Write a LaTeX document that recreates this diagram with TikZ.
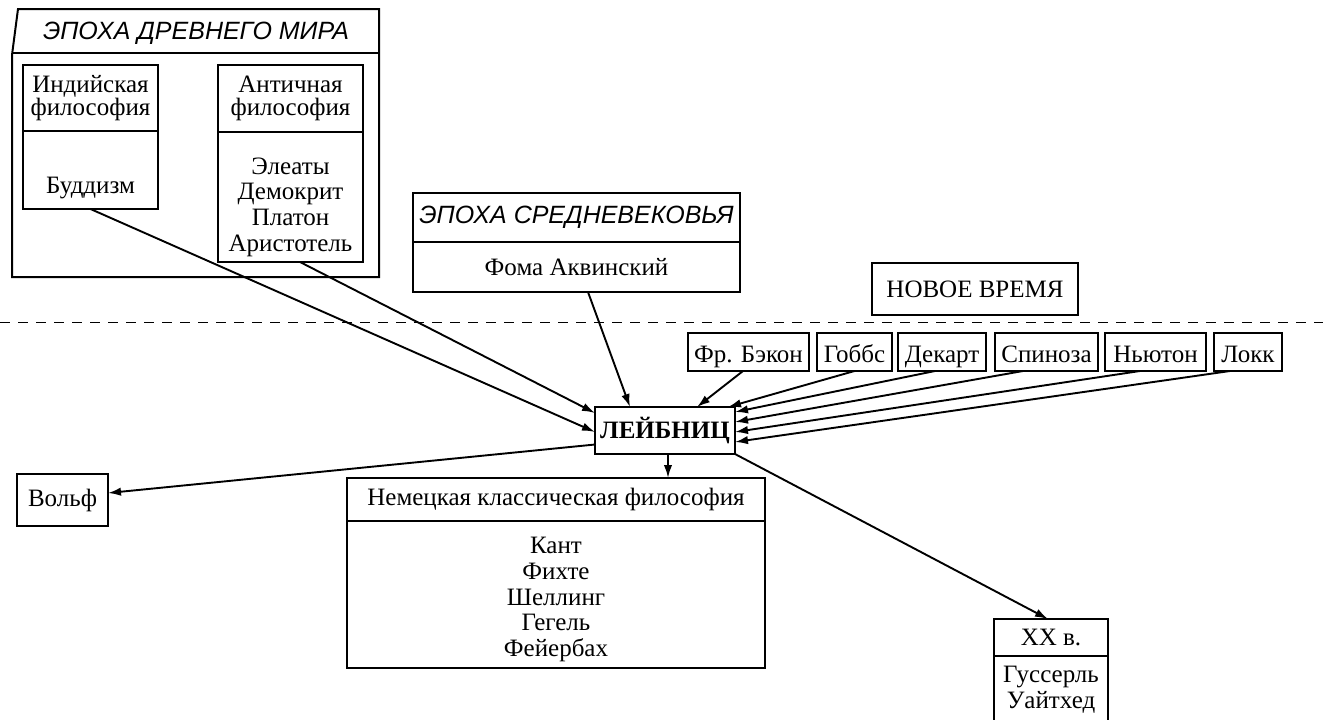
\documentclass[tikz,border=0pt]{standalone}
\usepackage{fontspec}
\setmainfont{Liberation Serif}
\newfontfamily\sansfam{Liberation Sans}
\usetikzlibrary{arrows.meta}
\begin{document}
\begin{tikzpicture}[x=0.5pt,y=-0.5pt,
  every node/.style={font=\fontsize{12.5pt}{12.8pt}\selectfont, inner sep=0pt, outer sep=0pt},
  box/.style={draw, line width=1pt},
  hdr/.style={align=center, font=\fontsize{12.5pt}{11.5pt}\selectfont},
  lst/.style={align=center, font=\fontsize{12.5pt}{12.8pt}\selectfont},
  ttl/.style={font=\sansfam\itshape\fontsize{12.5pt}{12.5pt}\selectfont},
  phil/.style={box, minimum height=19pt, text height=10.5pt, text depth=0.5pt},
  frame/.style={line width=1pt},
  arr/.style={line width=0.95pt, -{Latex[length=6.5pt,width=4.2pt]}},
  dashline/.style={line width=0.9pt, dash pattern=on 5pt off 4pt}]
\path[fill=white,use as bounding box] (0,0) rectangle (1323,719);

% --- Epoch of the ancient world ---
\draw[frame] (12,277) -- (12,55) -- (18,9) -- (379,9) -- (379,277) -- cycle;
\draw[frame] (12.5,53) -- (379,53);
\node[ttl] (ancT) at (196,33) {ЭПОХА ДРЕВНЕГО МИРА};

\node[box, hdr, minimum width=67.5pt, minimum height=33pt] (indH) at (90.5,98) {Индийская\\философия};
\node[box, minimum width=67.5pt, minimum height=39pt, anchor=north] (indB) at (indH.south) {};
\node (budd) at (90.5,188) {Буддизм};

\node[box, hdr, minimum width=72.5pt, minimum height=33.5pt] (antH) at (290.5,98.5) {Античная\\философия};
\node[box, minimum width=72.5pt, minimum height=65pt, anchor=north] (antB) at (antH.south) {};
\node[lst] (antN) at (290.5,207) {Элеаты\\Демокрит\\Платон\\Аристотель};

% --- Middle ages ---
\node[box, ttl, minimum width=163.5pt, minimum height=24.5pt] (medH) at (576.5,217.5) {ЭПОХА СРЕДНЕВЕКОВЬЯ};
\node[box, minimum width=163.5pt, minimum height=25pt, anchor=north] (medB) at (medH.south) {Фома Аквинский};

% --- Modern times ---
\node[box, minimum width=103pt, minimum height=26pt] (novoe) at (975,289) {НОВОЕ ВРЕМЯ};
\coordinate (dl) at (0,322.5);
\coordinate (dr) at (1323,322.5);
\draw[dashline] (dl) -- (dr);

\node[phil, minimum width=60.5pt] (bacon) at (748.5,352) {Фр. Бэкон};
\node[phil, minimum width=37.5pt] (hobbes) at (854.5,352) {Гоббс};
\node[phil, minimum width=44pt] (descartes) at (942,352) {Декарт};
\node[phil, minimum width=51.5pt] (spinoza) at (1046.5,352) {Спиноза};
\node[phil, minimum width=50.5pt] (newton) at (1155.5,352) {Ньютон};
\node[phil, minimum width=34pt] (locke) at (1248,352) {Локк};

% --- Leibniz ---
\node[box, minimum width=70pt, minimum height=23.5pt, font=\bfseries\fontsize{12.5pt}{12.5pt}\selectfont] (leib) at (665,430.5) {ЛЕЙБНИЦ};

% --- Successors ---
\node[box, minimum width=45.5pt, minimum height=26pt] (wolf) at (62.5,500) {Вольф};

\node[box, minimum width=209pt, minimum height=21.5pt] (nemH) at (556,499.5) {Немецкая классическая философия};
\node[box, minimum width=209pt, minimum height=73.5pt, anchor=north] (nemB) at (nemH.south) {};
\node[lst] (nemN) at (556,599.5) {Кант\\Фихте\\Шеллинг\\Гегель\\Фейербах};

\node[box, minimum width=57pt, minimum height=18.5pt] (xxH) at (1051,637.5) {XX в.};
\node[box, minimum width=57pt, minimum height=37pt, anchor=north] (xxB) at (xxH.south) {};
\node[lst] (xxN) at (1051,690) {Гуссерль\\Уайтхед};

% --- Connectors ---
\draw[arr] (indB.south) -- ([yshift=-0.75pt]leib.west);
\draw[arr] ([xshift=4.75pt]antB.south) -- ([yshift=8.75pt]leib.west);
\draw[arr] ([xshift=5.75pt]medB.south) -- ([xshift=-17.5pt]leib.north);
\draw[arr] ([xshift=-2.75pt]bacon.south) -- ([xshift=16pt]leib.north);
\draw[arr] (hobbes.south) -- ([xshift=31.5pt]leib.north);
\draw[arr] ([xshift=-3.5pt]descartes.south) -- ([yshift=9.25pt]leib.east);
\draw[arr] ([xshift=-11.75pt]spinoza.south) -- ([yshift=4.25pt]leib.east);
\draw[arr] ([xshift=-7.75pt]newton.south) -- ([yshift=-0.75pt]leib.east);
\draw[arr] ([xshift=-9pt]locke.south) -- ([yshift=-5.75pt]leib.east);

\draw[arr] ([yshift=-7pt]leib.west) -- ([yshift=3.5pt]wolf.east);
\draw[arr] ([xshift=1.5pt]leib.south) -- ([xshift=1.5pt]leib.south |- nemH.north);
\draw[arr] (leib.south east) -- ([xshift=-1.5pt]xxH.north);
\end{tikzpicture}
\end{document}
